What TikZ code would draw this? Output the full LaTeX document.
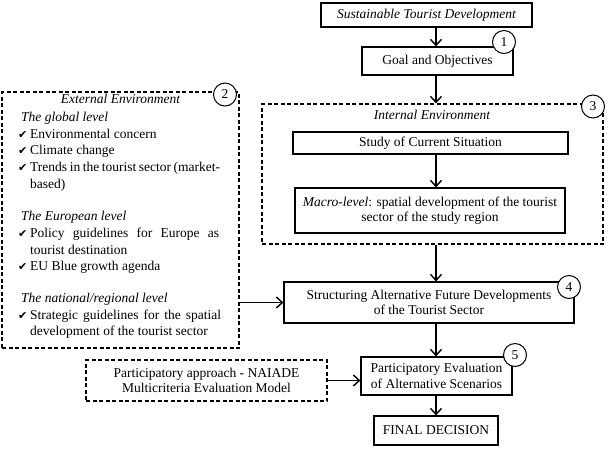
\documentclass[tikz,border=0pt]{standalone}
\usepackage{fontspec}
\setmainfont{Liberation Serif}
\newfontfamily\symfont{DejaVu Sans}
\usetikzlibrary{arrows.meta,calc}
\newcommand{\fs}{\fontsize{13.5}{15.5}\selectfont}
\newcommand{\ck}{{\symfont\fontsize{11}{11}\selectfont ✔}}
\begin{document}
\begin{tikzpicture}[x=1pt,y=-1pt,
  box/.style={draw, line width=1.2pt, fill=white, inner sep=0pt, align=center, font=\fs},
  dbox/.style={draw, line width=1.2pt, dash pattern=on 4pt off 2.5pt, inner sep=0pt, align=center, font=\fs},
  num/.style={draw, circle, line width=1pt, fill=white, minimum size=23pt, inner sep=0pt, font=\fs},
  arr/.style={line width=1.4pt, -{Straight Barb[length=6pt,width=11pt,line width=1.4pt]}},
  lbl/.style={inner sep=0pt, anchor=mid west, font=\fs},
  ckm/.style={inner sep=0pt, anchor=mid west},
]
\useasboundingbox (0,0) rectangle (611,456);
\coordinate (ax) at (436,0);

% main boxes
\node[box, minimum width=211pt, minimum height=24pt] (sus) at (426.5,15) {\itshape Sustainable Tourist Development};
\node[box, minimum width=151pt, minimum height=28pt] (goal) at (437.5,61) {Goal and Objectives};
\node[dbox, minimum width=341pt, minimum height=140pt] (intl) at (432.5,174) {};
\node[inner sep=0pt, font=\fs\itshape, anchor=mid] (intlbl) at (432,117) {Internal Environment};
\node[box, minimum width=275pt, minimum height=22pt] (study) at (430.5,143) {Study of Current Situation};
\node[box, minimum width=270pt, minimum height=45pt] (macro) at (430,210.5) {\textit{Macro-level}: spatial development of the tourist\\sector of the study region};
\node[box, minimum width=290pt, minimum height=41pt] (struct) at (429,302.5) {Structuring Alternative Future Developments\\of the Tourist Sector};
\node[box, minimum width=151pt, minimum height=38pt] (pe) at (436.5,376) {Participatory Evaluation\\of Alternative Scenarios};
\node[box, minimum width=124pt, minimum height=29pt] (final) at (436,430.5) {FINAL DECISION};
\node[dbox, minimum width=241pt, minimum height=41pt] (pa) at (206.5,380.5) {Participatory approach - NAIADE\\Multicriteria Evaluation Model};
\node[dbox, minimum width=237pt, minimum height=256pt] (ext) at (120.5,220) {};

% external environment contents
\node[inner sep=0pt, font=\fs\itshape, anchor=mid] (extlbl) at (120.5,101) {External Environment};
\node[lbl, font=\fs\itshape] (g1) at (21,119) {The global level};
\node[ckm] (c1) at (18,136) {\ck};
\node[lbl] (l1) at (30,136) {Environmental concern};
\node[ckm] (c2) at (18,152.6) {\ck};
\node[lbl] (l2) at (30,152.6) {Climate change};
\node[ckm] (c3) at (18,169.2) {\ck};
\node[lbl] (l3) at (30,169.2) {\makebox[190pt][s]{Trends in the tourist sector (market-}};
\node[lbl] (l4) at (30,185.8) {based)};
\node[lbl, font=\fs\itshape] (g2) at (21,218.6) {The European level};
\node[ckm] (c5) at (18,235.2) {\ck};
\node[lbl] (l5) at (30,235.2) {\makebox[189pt][s]{Policy guidelines for Europe as}};
\node[lbl] (l6) at (30,251.8) {tourist destination};
\node[ckm] (c7) at (18,268.4) {\ck};
\node[lbl] (l7) at (30,268.4) {EU Blue growth agenda};
\node[lbl, font=\fs\itshape] (g3) at (21,300.4) {The national/regional level};
\node[ckm] (c8) at (18,317) {\ck};
\node[lbl] (l8) at (30,317) {\makebox[191pt][s]{Strategic guidelines for the spatial}};
\node[lbl] (l9) at (30,333.6) {development of the tourist sector};

% connectors
\draw[arr] (sus.south -| ax) -- (goal.north -| ax);
\draw[arr] (goal.south -| ax) -- (intl.north -| ax);
\draw[arr] (study.south -| ax) -- (macro.north -| ax);
\draw[arr] (intl.south -| ax) -- (struct.north -| ax);
\draw[arr] (ext.east |- struct.west) -- (struct.west);
\draw[arr] (struct.south -| ax) -- (pe.north -| ax);
\draw[arr] (pa.east) -- (pa.east -| pe.west);
\draw[arr] (pe.south -| ax) -- (final.north -| ax);

% numbered circles
\node[num] (n1) at (504,42) {1};
\node[num] (n2) at (225,94.5) {2};
\node[num] (n3) at (593,106.5) {3};
\node[num] (n4) at (569,287) {4};
\node[num] (n5) at (515,355) {5};
\end{tikzpicture}
\end{document}
